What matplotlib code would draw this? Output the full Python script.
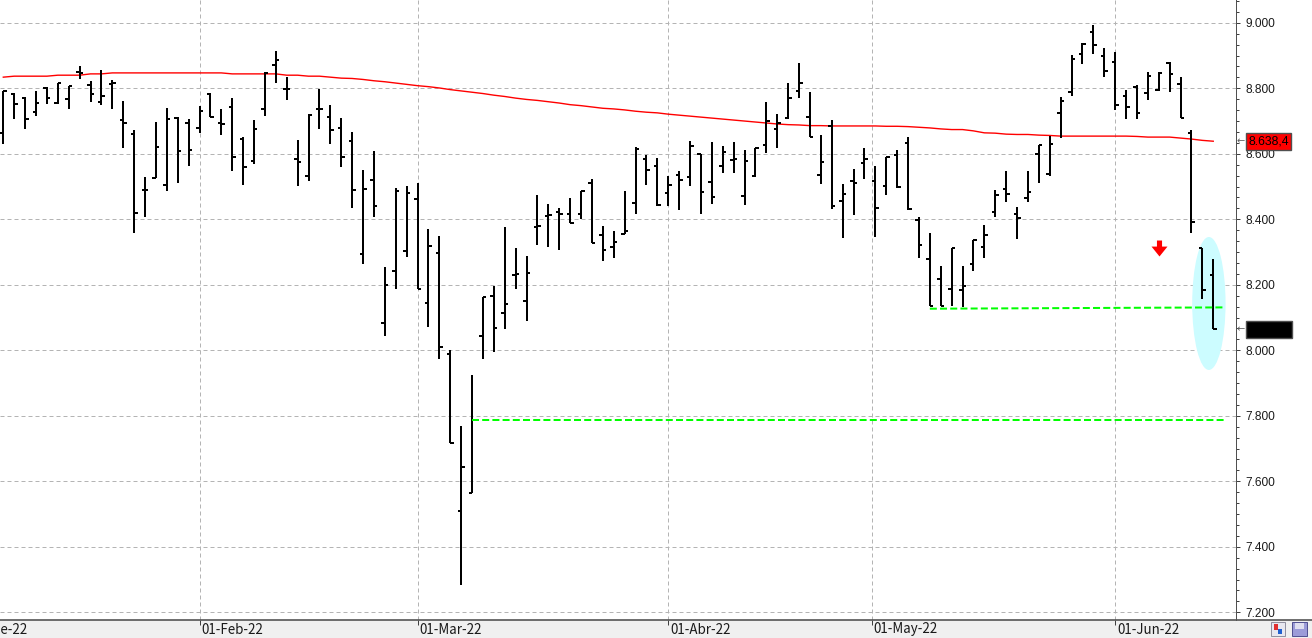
import numpy as np
import matplotlib.pyplot as plt
import matplotlib.transforms as mtransforms
from matplotlib.patches import Ellipse, Rectangle
from matplotlib.lines import Line2D
from matplotlib.path import Path
from matplotlib.ticker import FixedLocator, MultipleLocator, FuncFormatter

# daily OHLC, 06-Jan-22 .. 14-Jun-22 (one entry per trading session)
opens = [8663, 8783, 8771, 8728, 8802, 8754, 8766, 8849, 8809, 8758,
         8812, 8703, 8660, 8489, 8526, 8504, 8708, 8693, 8678, 8784,
         8693, 8742, 8646, 8577, 8736, 8870, 8797, 8584, 8532, 8736,
         8711, 8678, 8638, 8293, 8519, 8082, 8242, 8303, 8461, 8144,
         8296, 7988, 7508, 7565, 8044, 8165, 8113, 8229, 8150, 8376,
         8409, 8421, 8415, 8415, 8510, 8351, 8315, 8354, 8449, 8583,
         8562, 8479, 8534, 8529, 8598, 8513, 8562, 8581, 8470, 8531,
         8626, 8675, 8708, 8791, 8711, 8534, 8685, 8457, 8516, 8571,
         8516, 8502, 8596, 8634, 8397, 8278, 8217, 8186, 8183, 8263,
         8315, 8421, 8492, 8415, 8464, 8598, 8537, 8724, 8788, 8904,
         8973, 8899, 8879, 8777, 8804, 8785, 8795, 8878, 8813, 8663,
         8311, 8230]
highs = [8792, 8785, 8774, 8792, 8803, 8815, 8808, 8868, 8822, 8856,
         8825, 8761, 8673, 8530, 8698, 8739, 8711, 8705, 8746, 8785,
         8737, 8769, 8650, 8703, 8849, 8914, 8834, 8642, 8722, 8798,
         8749, 8708, 8666, 8551, 8609, 8253, 8495, 8502, 8510, 8369,
         8349, 8000, 7769, 7925, 8162, 8196, 8377, 8312, 8288, 8474,
         8447, 8434, 8465, 8486, 8523, 8380, 8364, 8486, 8620, 8596,
         8586, 8532, 8547, 8639, 8598, 8635, 8625, 8635, 8612, 8617,
         8757, 8721, 8815, 8876, 8788, 8656, 8702, 8507, 8554, 8617,
         8562, 8591, 8612, 8650, 8406, 8357, 8256, 8313, 8256, 8337,
         8382, 8489, 8547, 8438, 8547, 8626, 8655, 8773, 8902, 8937,
         8993, 8922, 8910, 8795, 8810, 8851, 8849, 8881, 8835, 8673,
         8311, 8278]
lows = [8629, 8706, 8676, 8715, 8752, 8751, 8737, 8827, 8759, 8749,
        8736, 8619, 8359, 8408, 8525, 8487, 8512, 8564, 8664, 8711,
        8657, 8548, 8505, 8569, 8715, 8817, 8764, 8503, 8518, 8676,
        8630, 8561, 8435, 8263, 8408, 8045, 8186, 8286, 8186, 8070,
        7974, 7717, 7283, 7563, 7974, 7996, 8065, 8188, 8090, 8322,
        8316, 8306, 8388, 8400, 8327, 8274, 8283, 8354, 8416, 8505,
        8442, 8441, 8428, 8502, 8416, 8447, 8542, 8542, 8444, 8530,
        8603, 8619, 8705, 8771, 8650, 8508, 8431, 8344, 8413, 8523,
        8347, 8474, 8497, 8428, 8283, 8136, 8136, 8136, 8133, 8243,
        8283, 8408, 8454, 8341, 8454, 8512, 8533, 8649, 8776, 8873,
        8904, 8835, 8734, 8707, 8705, 8764, 8792, 8790, 8708, 8359,
        8158, 8064]
closes = [8792, 8751, 8705, 8754, 8769, 8815, 8807, 8846, 8783, 8776,
          8817, 8693, 8418, 8489, 8620, 8705, 8609, 8612, 8731, 8711,
          8690, 8589, 8559, 8675, 8846, 8886, 8797, 8574, 8718, 8736,
          8673, 8589, 8489, 8492, 8441, 8198, 8486, 8479, 8186, 8319,
          8009, 7718, 7644, 7786, 8162, 8067, 8140, 8232, 8235, 8379,
          8413, 8415, 8388, 8486, 8327, 8305, 8331, 8363, 8614, 8551,
          8443, 8504, 8519, 8623, 8482, 8468, 8605, 8585, 8577, 8617,
          8699, 8693, 8769, 8815, 8650, 8574, 8441, 8476, 8510, 8584,
          8433, 8589, 8500, 8432, 8321, 8136, 8136, 8311, 8197, 8336,
          8351, 8473, 8477, 8405, 8482, 8626, 8629, 8760, 8889, 8935,
          8932, 8853, 8748, 8742, 8724, 8838, 8846, 8844, 8710, 8391,
          8184, 8064]
# long moving average (red)
ma = [8834, 8837, 8837, 8837, 8837, 8840, 8840, 8840, 8844, 8844,
      8847, 8847, 8847, 8847, 8847, 8847, 8847, 8847, 8847, 8847,
      8847, 8844, 8844, 8844, 8844, 8844, 8840, 8840, 8837, 8837,
      8834, 8831, 8830, 8827, 8823, 8820, 8816, 8812, 8808, 8805,
      8801, 8796, 8792, 8788, 8784, 8779, 8775, 8770, 8766, 8763,
      8759, 8755, 8750, 8747, 8743, 8739, 8737, 8734, 8730, 8727,
      8725, 8721, 8718, 8715, 8712, 8709, 8706, 8703, 8700, 8697,
      8694, 8691, 8689, 8688, 8686, 8686, 8685, 8685, 8685, 8685,
      8685, 8684, 8684, 8683, 8681, 8679, 8676, 8674, 8674, 8670,
      8664, 8663, 8660, 8659, 8659, 8657, 8656, 8654, 8654, 8654,
      8654, 8654, 8654, 8654, 8653, 8651, 8651, 8651, 8648, 8645,
      8641, 8638.4]

month_pos = [-3.67, 18, 38, 61, 79.67, 102]
month_lab = ['01-Ene-22', '01-Feb-22', '01-Mar-22', '01-Abr-22', '01-May-22', '01-Jun-22']

support_hi_x = [85, 112.0]
support_hi_y = [8127, 8131]
support_lo_x = [43, 112.0]
support_lo_y = [7786, 7786]

signal_x, signal_y = 106, 8312
zone_x, zone_y, zone_w, zone_h = 110.6, 8143, 3.06, 406

W, H = 1312, 638
fig = plt.figure(figsize=(W / 100, H / 100), dpi=100)
ax = fig.add_axes([0, 18 / H, 1235.7 / W, 620 / H])

idx = np.arange(len(opens))
tick = 0.32
ax.vlines(idx, lows, highs, color='black', lw=1.44, antialiased=False, zorder=4)
ax.hlines(opens, idx - tick, idx, color='black', lw=1.44, antialiased=False, zorder=4)
ax.hlines(closes, idx, idx + tick, color='black', lw=1.44, antialiased=False, zorder=4)

ax.plot(idx, ma, color='#ff0000', lw=1.0, zorder=3)

ax.plot(support_hi_x, support_hi_y, color='#00ff00', lw=1.44, dashes=(3.5, 1.6), zorder=5)
ax.plot(support_lo_x, support_lo_y, color='#00ff00', lw=1.44, dashes=(3.5, 1.6), zorder=5)

ax.add_patch(Ellipse((zone_x, zone_y), zone_w, zone_h, facecolor='#ccfcff',
                     edgecolor='none', zorder=1.6))

arrow = Path([(-0.16, 0.5), (0.16, 0.5), (0.16, 0.12), (0.5, 0.12), (0, -0.5),
              (-0.5, 0.12), (-0.16, 0.12), (-0.16, 0.5)], closed=True)
ax.plot([signal_x], [signal_y], marker=arrow, markersize=11.5, color='#ff0000',
        markeredgewidth=0, zorder=6)

# y axis on the right
ax.yaxis.tick_right()
ax.yaxis.set_major_locator(FixedLocator(np.arange(7200, 9001, 200)))
ax.yaxis.set_minor_locator(MultipleLocator(200 / 6))
ax.yaxis.set_major_formatter(FuncFormatter(lambda v, p: f"{v:,.0f}".replace(',', '.')))
ax.tick_params(axis='y', which='major', length=4 * 0.72, width=0.72, color='#404040',
               pad=4.4, labelsize=8.6, labelcolor='#1a1a1a')
ax.tick_params(axis='y', which='minor', length=3 * 0.72, width=0.72, color='#404040')
for lb in ax.get_yticklabels():
    lb.set_family('Liberation Sans')

ax.set_xticks(month_pos)
ax.set_xticklabels([])
ax.tick_params(axis='x', length=5 * 0.72, width=0.72, color='#404040')

# limits after the ticks, set_xticks would widen them
ax.set_xlim(-0.303, 113.06)
ax.set_ylim(7176.5, 9069.6)

ax.grid(True, axis='both', which='major', color='#b4b4b4', lw=0.72,
        linestyle=(0, (4, 3)), zorder=1)
ax.set_axisbelow(True)

for s in ['top', 'left', 'bottom']:
    ax.spines[s].set_visible(False)
ax.spines['right'].set_color('#505050')
ax.spines['right'].set_linewidth(0.72)

# bottom date band
fig.add_artist(Rectangle((0, 0), 1, 18 / H, transform=fig.transFigure,
                         facecolor='#f0f0f0', edgecolor='none', zorder=-1))
fig.add_artist(Line2D([0, 1], [18.5 / H, 18.5 / H], transform=fig.transFigure,
                      color='#555555', lw=1.2))

xtrans = mtransforms.blended_transform_factory(ax.transData, ax.transAxes)
xlab_trans = mtransforms.offset_copy(xtrans, fig=fig, x=2, y=-9.5, units='dots')
for pos, lab in zip(month_pos, month_lab):
    ax.text(pos, 0, lab, transform=xlab_trans, ha='left', va='center',
            fontsize=9.6, family=['Noto Sans CJK JP', 'DejaVu Sans'],
            color='#1a1a1a', clip_on=False)

# price flags on the right axis
ytrans = mtransforms.blended_transform_factory(ax.transAxes, ax.transData)
flag_trans = mtransforms.offset_copy(ytrans, fig=fig, x=12.5, y=0, units='dots')
arr_trans = mtransforms.offset_copy(ytrans, fig=fig, x=0.5, y=0, units='dots')

ma_lab = f"{ma[-1]:,.1f}".replace(',', ' ').replace('.', ',').replace(' ', '.')
ax.text(1.0, ma[-1], ma_lab, transform=flag_trans, ha='left', va='center',
        fontsize=8.7, family='Liberation Sans', color='black', clip_on=False, zorder=10,
        bbox=dict(boxstyle='square,pad=0.22', facecolor='#ff0000', edgecolor='#505050', lw=1))
last_lab = f"{closes[-1]:,.1f}".replace(',', ' ').replace('.', ',').replace(' ', '.')
ax.text(1.0, closes[-1], last_lab, transform=flag_trans, ha='left', va='center',
        fontsize=8.7, family='Liberation Sans', color='black', clip_on=False, zorder=10,
        bbox=dict(boxstyle='square,pad=0.22', facecolor='black', edgecolor='#505050', lw=1))
for yv in [ma[-1], closes[-1]]:
    ax.text(1.0, yv, '\u2190', transform=arr_trans, ha='left', va='center', fontsize=7,
            color='#606060', clip_on=False, zorder=10)

# little toolbar icons bottom right
fig.add_artist(Rectangle((1271 / W, 2 / H), 14 / W, 14 / H, transform=fig.transFigure,
                         facecolor='#e8e8f0', edgecolor='#9090a0', lw=0.7))
fig.add_artist(Rectangle((1274 / W, 8 / H), 4 / W, 6 / H, transform=fig.transFigure,
                         facecolor='#e03030', edgecolor='none'))
fig.add_artist(Rectangle((1278 / W, 4 / H), 4 / W, 5 / H, transform=fig.transFigure,
                         facecolor='#2060d0', edgecolor='none'))
fig.add_artist(Rectangle((1292 / W, 2 / H), 15 / W, 14 / H, transform=fig.transFigure,
                         facecolor='#9c9cd8', edgecolor='#505090', lw=0.7))
fig.add_artist(Rectangle((1295 / W, 9 / H), 9 / W, 6 / H, transform=fig.transFigure,
                         facecolor='#e0e0f0', edgecolor='none'))

fig.savefig('out.png', dpi=100)
